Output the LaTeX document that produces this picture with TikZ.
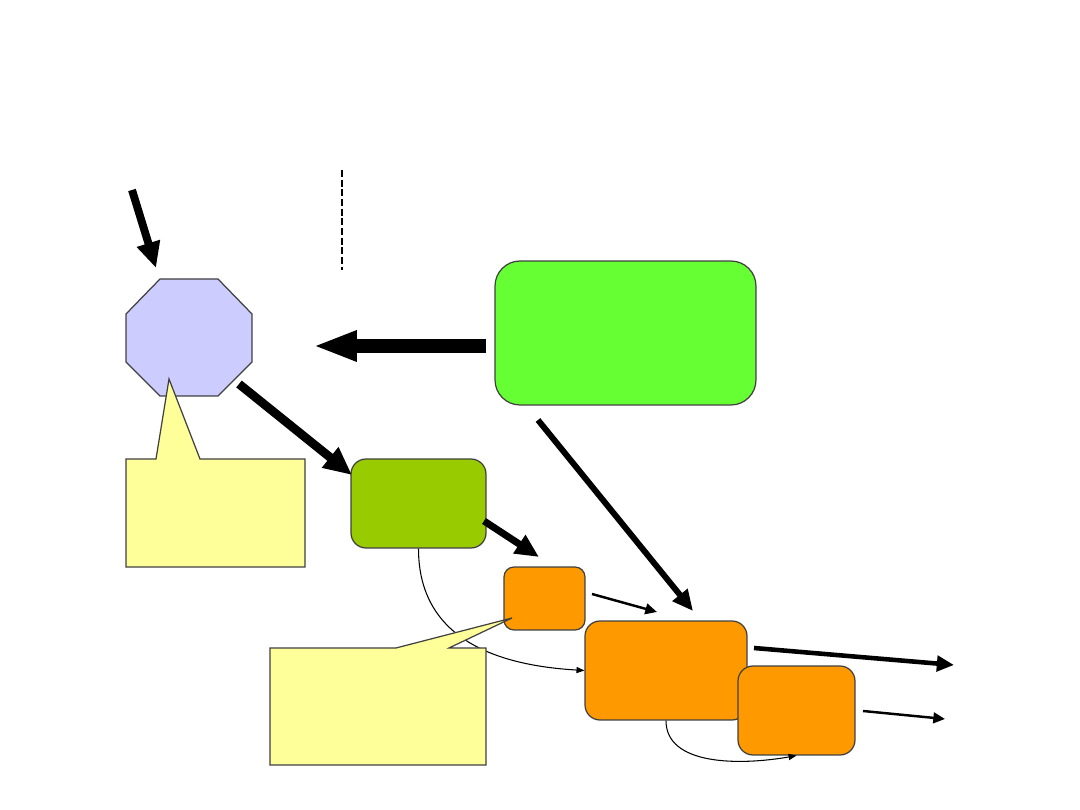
\documentclass[tikz,border=0pt]{standalone}
\usepackage{tikz}
\usetikzlibrary{arrows.meta, positioning}
\definecolor{SLDlilac}{HTML}{CCCCFF}
\definecolor{SLDyellow}{HTML}{FFFF99}
\definecolor{SLDlime}{HTML}{66FF33}
\definecolor{SLDolive}{HTML}{99CC00}
\definecolor{SLDorange}{HTML}{FF9900}
\definecolor{SLDedge}{HTML}{404040}
\begin{document}
\begin{tikzpicture}[
      x=0.02cm, y=-0.02cm,
      box/.style={draw=SLDedge, line width=0.7pt, inner sep=0pt},
      note/.style={draw=SLDedge, line width=0.7pt, fill=SLDyellow},
      fat/.style={line width=#1, -{Triangle[length=2.6*#1+3pt, width=2.2*#1+3pt]}},
      thin/.style={line width=0.6pt, -{Triangle[length=4.5pt, width=3.5pt]}},
   ]
      \useasboundingbox (0,0) rectangle (1080,810);

      % octagon
      \draw[box, fill=SLDlilac] (160,279) -- (218,279) -- (252,314) -- (252,362)
         -- (218,396) -- (160,396) -- (126,362) -- (126,314) -- cycle;

      % boxes
      \node[box, fill=SLDlime, rounded corners=0.5cm, minimum width=5.22cm,
            minimum height=2.88cm] (main) at (625.5,333) {};
      \node[box, fill=SLDolive, rounded corners=0.3cm, minimum width=2.7cm,
            minimum height=1.78cm] (mid) at (418.5,503.5) {};
      \node[box, fill=SLDorange, rounded corners=0.2cm, minimum width=1.62cm,
            minimum height=1.26cm] (small) at (544.5,598.5) {};
      \node[box, fill=SLDorange, rounded corners=0.3cm, minimum width=3.24cm,
            minimum height=1.98cm] (big) at (666,670.5) {};
      \node[box, fill=SLDorange, rounded corners=0.3cm, minimum width=2.34cm,
            minimum height=1.78cm] (last) at (796.5,710.5) {};

      % dashed divider
      \draw[line width=0.7pt, dash pattern=on 4pt off 1.5pt] (342,170) -- (342,270);

      % free arrow ends
      \coordinate (inA) at (132,190);   \coordinate (inB) at (156,268);
      \coordinate (lfA) at (486,346);   \coordinate (lfB) at (313,346);
      \coordinate (dgA) at (239,384);   \coordinate (dgB) at (352,475);
      \coordinate (mdA) at (484,521);   \coordinate (mdB) at (539,557);
      \coordinate (lgA) at (538,420);   \coordinate (lgB) at (693,611);
      \coordinate (smA) at (592,594);   \coordinate (smB) at (657,612);
      \coordinate (otA) at (754,648);   \coordinate (otB) at (954,665);
      \coordinate (lwA) at (863,711);   \coordinate (lwB) at (945,719);

      % arrows
      \draw[fat=4.5pt] (inA) -- (inB);
      \draw[fat=8pt, -{Triangle[length=25pt, width=16pt]}] (lfA) -- (lfB);
      \draw[fat=5pt] (dgA) -- (dgB);
      \draw[fat=4pt] (mdA) -- (mdB);
      \draw[fat=3.4pt] (lgA) -- (lgB);
      \draw[fat=1.4pt] (smA) -- (smB);
      \draw[fat=2.6pt] (otA) -- (otB);
      \draw[fat=1.4pt] (lwA) -- (lwB);

      % curved links
      \draw[thin] (mid.south) .. controls +(0,92) and +(-85,-5) .. (big.west);
      \draw[thin] (big.south) .. controls +(0,45) and +(-57,10) .. (last.south);

      % callouts
      \draw[note] (126,459) -- (156,459) -- (169,379) -- (200,459) -- (305,459)
         -- (305,567) -- (126,567) -- cycle;
      \draw[note] (270,648) -- (396,648) -- (512,618) -- (449,648) -- (486,648)
         -- (486,765) -- (270,765) -- cycle;
   \end{tikzpicture}
\end{document}
